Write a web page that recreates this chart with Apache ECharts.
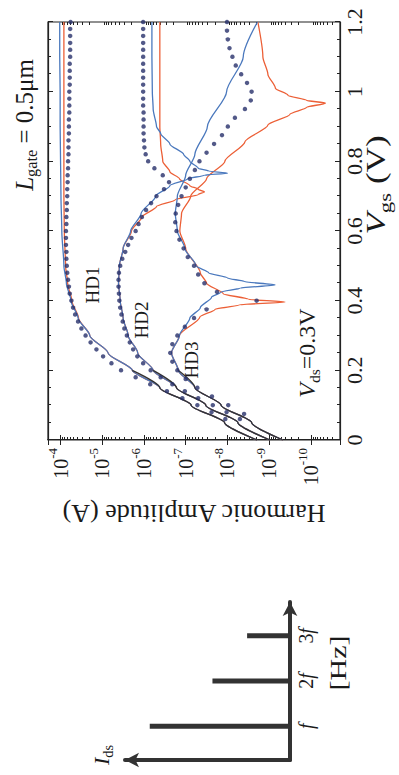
<!DOCTYPE html>
<html><head><meta charset="utf-8">
<script src="https://cdn.jsdelivr.net/npm/echarts@6.0.0/dist/echarts.min.js"></script>
<style>
html,body{margin:0;padding:0;background:#fff;overflow:hidden;width:399px;height:775px;}
#chart{position:absolute;left:0;top:0;width:775px;height:399px;transform-origin:0 0;transform:translate(0,775px) rotate(-90deg);}
</style></head><body><div id="chart"></div>
<script>
// ---- data: [Vgs (V), log10(amplitude / A)] ----
const hd1Blue = [[0,-8.71],[0.05,-7.93],[0.1,-7.13],[0.15,-6.38],[0.2,-5.72],[0.25,-5.14],[0.3,-4.7],[0.35,-4.42],[0.4,-4.25],[0.45,-4.14],[0.5,-4.08],[0.6,-4.03],[0.7,-4.01],[0.8,-4.0],[0.9,-3.99],[1.0,-3.99],[1.1,-3.98],[1.2,-3.98]];
const hd1Orange = [[0,-8.71],[0.05,-7.93],[0.1,-7.13],[0.15,-6.38],[0.2,-5.72],[0.25,-5.14],[0.3,-4.7],[0.35,-4.43],[0.4,-4.27],[0.45,-4.17],[0.5,-4.12],[0.6,-4.09],[0.7,-4.08],[0.8,-4.08],[1.0,-4.08],[1.2,-4.08]];
const hd2Blue = [[0,-9.02],[0.05,-8.25],[0.1,-7.48],[0.15,-6.78],[0.2,-6.22],[0.25,-5.85],[0.3,-5.62],[0.35,-5.5],[0.4,-5.43],[0.45,-5.39],[0.5,-5.41],[0.55,-5.5],[0.6,-5.68],[0.65,-5.93],[0.7,-6.28],[0.73,-6.62],[0.75,-7.05],[0.76,-7.45],[0.766,-8.0],[0.772,-7.55],[0.78,-7.3],[0.8,-7.1],[0.82,-6.95],[0.85,-6.62],[0.88,-6.4],[0.9,-6.3],[0.95,-6.22],[1.0,-6.2],[1.1,-6.19],[1.2,-6.19]];
const hd2Orange = [[0,-9.02],[0.05,-8.25],[0.1,-7.48],[0.15,-6.78],[0.2,-6.22],[0.25,-5.85],[0.3,-5.62],[0.35,-5.5],[0.4,-5.43],[0.45,-5.39],[0.5,-5.41],[0.55,-5.5],[0.6,-5.7],[0.64,-5.95],[0.67,-6.3],[0.69,-6.75],[0.705,-7.3],[0.712,-7.45],[0.72,-7.3],[0.73,-7.1],[0.75,-6.85],[0.77,-6.62],[0.8,-6.45],[0.85,-6.4],[0.9,-6.38],[1.0,-6.38],[1.2,-6.38]];
const hd3Blue = [[0,-9.33],[0.05,-8.58],[0.1,-7.85],[0.15,-7.22],[0.2,-6.82],[0.25,-6.66],[0.3,-6.85],[0.35,-7.1],[0.38,-7.35],[0.41,-7.62],[0.425,-7.85],[0.436,-8.3],[0.445,-9.14],[0.455,-8.4],[0.465,-8.0],[0.48,-7.55],[0.5,-7.25],[0.55,-6.98],[0.6,-6.8],[0.65,-6.75],[0.7,-6.8],[0.76,-7.0],[0.82,-7.22],[0.9,-7.52],[1.0,-7.98],[1.1,-8.38],[1.2,-8.72]];
const hd3Orange = [[0,-9.33],[0.05,-8.58],[0.1,-7.85],[0.15,-7.22],[0.2,-6.82],[0.25,-6.66],[0.3,-6.85],[0.353,-7.34],[0.375,-7.7],[0.388,-8.3],[0.396,-9.38],[0.404,-8.5],[0.42,-7.9],[0.45,-7.5],[0.48,-7.35],[0.55,-7.0],[0.6,-6.86],[0.65,-6.9],[0.7,-7.12],[0.75,-7.5],[0.8,-7.94],[0.856,-8.42],[0.904,-8.97],[0.935,-9.5],[0.955,-9.9],[0.967,-10.35],[0.975,-9.9],[0.99,-9.45],[1.01,-9.15],[1.05,-8.97],[1.1,-8.85],[1.2,-8.73]];
const hd1Sub = [[0,-8.71],[0.05,-7.93],[0.1,-7.13],[0.15,-6.38],[0.2,-5.72]];
const hd2Sub = [[0,-9.02],[0.05,-8.25],[0.1,-7.48],[0.15,-6.78],[0.2,-6.22]];
const hd3Sub = [[0,-9.33],[0.05,-8.58],[0.1,-7.85],[0.15,-7.22],[0.2,-6.82]];
const hd1Dots = [[0.06,-7.95],[0.08,-7.62],[0.10,-7.28],[0.12,-6.92],[0.14,-6.55],[0.16,-6.15],[0.18,-5.80],[0.20,-5.45],[0.22,-5.22],[0.24,-5.02],[0.26,-4.86],[0.28,-4.72],[0.30,-4.60],[0.32,-4.50],[0.34,-4.42],[0.36,-4.35],[0.38,-4.30],[0.40,-4.26],[0.42,-4.22],[0.44,-4.20],[0.46,-4.18],[0.48,-4.16],[0.50,-4.15],[0.52,-4.14],[0.54,-4.14],[0.56,-4.13],[0.58,-4.13],[0.60,-4.13],[0.62,-4.14],[0.64,-4.14],[0.66,-4.15],[0.68,-4.15],[0.70,-4.16],[0.72,-4.16],[0.74,-4.17],[0.76,-4.17],[0.78,-4.18],[0.80,-4.18],[0.82,-4.19],[0.84,-4.19],[0.86,-4.19],[0.88,-4.20],[0.90,-4.20],[0.92,-4.20],[0.94,-4.21],[0.96,-4.21],[0.98,-4.21],[1.00,-4.21],[1.02,-4.22],[1.04,-4.22],[1.06,-4.22],[1.08,-4.22],[1.10,-4.23],[1.12,-4.23],[1.14,-4.23],[1.16,-4.23],[1.18,-4.23],[1.20,-4.24]];
const hd2Dots = [[0.06,-8.30],[0.08,-7.98],[0.10,-7.65],[0.12,-7.30],[0.14,-6.98],[0.16,-6.68],[0.18,-6.40],[0.20,-6.16],[0.22,-5.98],[0.24,-5.84],[0.26,-5.74],[0.28,-5.66],[0.30,-5.59],[0.32,-5.53],[0.34,-5.49],[0.36,-5.46],[0.38,-5.43],[0.40,-5.41],[0.42,-5.40],[0.44,-5.39],[0.46,-5.39],[0.48,-5.40],[0.50,-5.43],[0.52,-5.48],[0.54,-5.55],[0.56,-5.62],[0.58,-5.70],[0.60,-5.80],[0.62,-5.87],[0.64,-5.95],[0.66,-6.05],[0.68,-6.17],[0.70,-6.30],[0.72,-6.48],[0.74,-6.60],[0.76,-6.45],[0.78,-6.25],[0.80,-6.10],[0.82,-6.04],[0.84,-6.01],[0.86,-6.00],[0.88,-5.99],[0.90,-5.99],[0.92,-5.99],[0.94,-5.99],[0.96,-5.98],[0.98,-5.98],[1.00,-5.98],[1.02,-5.98],[1.04,-5.98],[1.06,-5.98],[1.08,-5.98],[1.10,-5.98],[1.12,-5.98],[1.14,-5.98],[1.16,-5.98],[1.18,-5.98],[1.20,-5.98]];
const hd3Dots = [[0.075,-8.40],[0.1,-8.02],[0.125,-7.63],[0.15,-7.28],[0.175,-7.00],[0.2,-6.80],[0.225,-6.68],[0.25,-6.63],[0.275,-6.68],[0.3,-6.80],[0.325,-6.98],[0.35,-7.20],[0.375,-7.50],[0.4,-8.70],[0.425,-7.75],[0.45,-7.45],[0.475,-7.30],[0.5,-7.20],[0.525,-7.05],[0.55,-6.95],[0.575,-6.85],[0.6,-6.78],[0.625,-6.75],[0.65,-6.76],[0.675,-6.82],[0.7,-6.90],[0.725,-7.00],[0.75,-7.10],[0.775,-7.22],[0.8,-7.33],[0.825,-7.50],[0.85,-7.68],[0.875,-7.87],[0.9,-8.01],[0.925,-8.18],[0.95,-8.42],[0.975,-8.56],[1.0,-8.58],[1.025,-8.47],[1.05,-8.33],[1.075,-8.20],[1.1,-8.12],[1.125,-8.05],[1.15,-8.01],[1.175,-7.99],[1.2,-7.99]];
// spectrum sketch
const specFreq = [1, 2, 3];
const specAmp = [0.85, 0.47, 0.26];
const specLabels = ['f', '2f', '3f'];
// axes
const vgsMin = 0, vgsMax = 1.2, vgsStep = 0.2;
const ampMin = 2e-11, ampMax = 2e-4;
const minorMult = [2,3,4,5,6,7,8,9];
const decades = [-11,-10,-9,-8,-7,-6,-5,-4];

const serif = '"Liberation Serif","Times New Roman",Times,serif';
const ink = '#1a1a1a';
const blue = '#4a78bd', orange = '#ec5f36', navy = '#27306a', dark = '#333333';
const toAmp = pts => pts.map(p => [p[0], Math.pow(10, p[1])]);
const minorExp = [];
decades.forEach(d => minorMult.forEach(k => minorExp.push(Math.log10(k) + d)));

function line(data, color, width, z) {
  return {type:'line', xAxisIndex:0, yAxisIndex:0, data:toAmp(data), symbol:'none', showSymbol:false,
    smooth:0.25, smoothMonotone:'x', lineStyle:{color:color, width:width}, z:z, silent:true};
}
function dots(data) {
  return {type:'scatter', xAxisIndex:0, yAxisIndex:0, data:toAmp(data), symbol:'circle', symbolSize:4.5,
    itemStyle:{color:navy}, z:6, silent:true};
}
function sub(S, base, subText, rest, italicBase) {
  return {
    text: '{b|' + base + '}{s|' + subText + '}' + (rest ? '{n|' + rest + '}' : ''),
    rich: {
      b:{fontFamily:serif, fontSize:S, fontStyle: italicBase ? 'italic' : 'normal', lineHeight:1.3*S, verticalAlign:'middle', fill:ink},
      s:{fontFamily:serif, fontSize:0.65*S, lineHeight:0.65*S, verticalAlign:'bottom', fill:ink},
      n:{fontFamily:serif, fontSize:S, lineHeight:1.3*S, verticalAlign:'middle', fill:ink}
    }
  };
}
function txt(x, y, st, sx) {
  return {type:'text', x:x, y:y, scaleX: sx || 1, silent:true, style:Object.assign({textAlign:'center', textVerticalAlign:'middle'}, st)};
}

const chart = echarts.init(document.getElementById('chart'), null, {renderer:'svg', width:775, height:399});
const axisCol = '#222';
const logYBase = {gridIndex:0, type:'log', logBase:10, min:ampMin, max:ampMax, splitNumber:7,
  axisLine:{show:true, lineStyle:{color:axisCol, width:1.2}}, axisTick:{inside:true, length:5, lineStyle:{color:axisCol}},
  splitLine:{show:false}};
const minorY = {gridIndex:0, type:'value', min:Math.log10(ampMin), max:Math.log10(ampMax),
  axisLine:{show:false}, axisLabel:{show:false}, splitLine:{show:false},
  axisTick:{inside:true, length:3, customValues:minorExp, lineStyle:{color:axisCol}}};
const vgsAxis = {gridIndex:0, type:'value', min:vgsMin, max:vgsMax, interval:vgsStep,
  axisLine:{show:true, onZero:false, lineStyle:{color:axisCol, width:1.2}},
  axisTick:{inside:true, length:5, lineStyle:{color:axisCol}},
  minorTick:{show:true, splitNumber:4, length:3, lineStyle:{color:axisCol}}, splitLine:{show:false}};

const option = {
  animation:false,
  backgroundColor:'#ffffff',
  grid:[
    {left:335, right:22, top:48, bottom:59, show:true, borderColor:axisCol, borderWidth:1.2},
    {left:15, top:125, width:158, height:165, show:false}
  ],
  xAxis:[
    Object.assign({}, vgsAxis, {position:'bottom', axisLabel:{fontFamily:serif, fontSize:22, color:ink, margin:3}}),
    Object.assign({}, vgsAxis, {position:'top', axisLabel:{show:false}}),
    {gridIndex:1, type:'value', min:0.25, max:3.75,
      axisLine:{show:true, onZero:false, symbol:['none','arrow'], symbolSize:[11,14], lineStyle:{color:dark, width:4}},
      axisTick:{show:false}, splitLine:{show:false},
      axisLabel:{customValues:specFreq, margin:6,
        formatter: v => { const s = specLabels[specFreq.indexOf(v)] || ''; return s.length > 1 ? '{n|' + s.slice(0, -1) + '}{i|f}' : '{i|' + s + '}'; },
        rich:{i:{fontFamily:serif, fontStyle:'italic', fontSize:20, color:ink}, n:{fontFamily:serif, fontSize:20, color:ink}}}}
  ],
  yAxis:[
    Object.assign({}, logYBase, {position:'left',
      axisLabel:{margin:8,
        formatter: v => { const e = Math.log10(v); const r = Math.round(e); if (Math.abs(e - r) > 1e-6) return ''; return '{b|10}{s|-' + (-r) + '}'; },
        rich:{b:{fontFamily:serif, fontSize:20, color:ink, lineHeight:30, verticalAlign:'middle'},
              s:{fontFamily:serif, fontSize:13, color:ink, lineHeight:13, verticalAlign:'top'}}},
      name:'Harmonic Amplitude (A)', nameLocation:'middle', nameGap:60, nameRotate:90,
      nameTextStyle:{fontFamily:serif, fontSize:26, color:ink}}),
    Object.assign({}, logYBase, {position:'right', axisLabel:{show:false}}),
    Object.assign({}, minorY, {position:'left'}),
    Object.assign({}, minorY, {position:'right'}),
    {gridIndex:1, type:'value', min:0, max:1,
      axisLine:{show:true, onZero:false, symbol:['none','arrow'], symbolSize:[11,14], lineStyle:{color:dark, width:4}},
      axisTick:{show:false}, axisLabel:{show:false}, splitLine:{show:false}}
  ],
  graphic:[
    txt(650, 24, sub(25, 'L', 'gate', ' = 0.5μm', true)),
    txt(422, 307, sub(24, 'V', 'ds', '=0.3V', true)),
    txt(590, 376, sub(27, 'V', 'gs', ' (V)', true), 1.3),
    txt(490, 92, {text:'HD1', font:'19px ' + serif, fill:ink}),
    txt(455, 141, {text:'HD2', font:'19px ' + serif, fill:ink}),
    txt(415, 191, {text:'HD3', font:'19px ' + serif, fill:ink}),
    txt(112, 338, {text:'[Hz]', font:'24px ' + serif, fill:ink}, 1.25),
    txt(20, 101, sub(22, 'I', 'ds', '', true))
  ],
  series:[
    line(hd1Orange, orange, 1.3, 2), line(hd2Orange, orange, 1.3, 2), line(hd3Orange, orange, 1.3, 2),
    line(hd1Blue, blue, 1.3, 3), line(hd2Blue, blue, 1.3, 3), line(hd3Blue, blue, 1.3, 3),
    line(hd1Sub, dark, 1.3, 4), line(hd2Sub, dark, 1.3, 4), line(hd3Sub, dark, 1.3, 4),
    dots(hd1Dots), dots(hd2Dots), dots(hd3Dots),
    {type:'bar', xAxisIndex:2, yAxisIndex:4, data:specFreq.map((f, i) => [f, specAmp[i]]),
      barWidth:5, itemStyle:{color:dark}, silent:true}
  ]
};
chart.setOption(option);
</script></body></html>
